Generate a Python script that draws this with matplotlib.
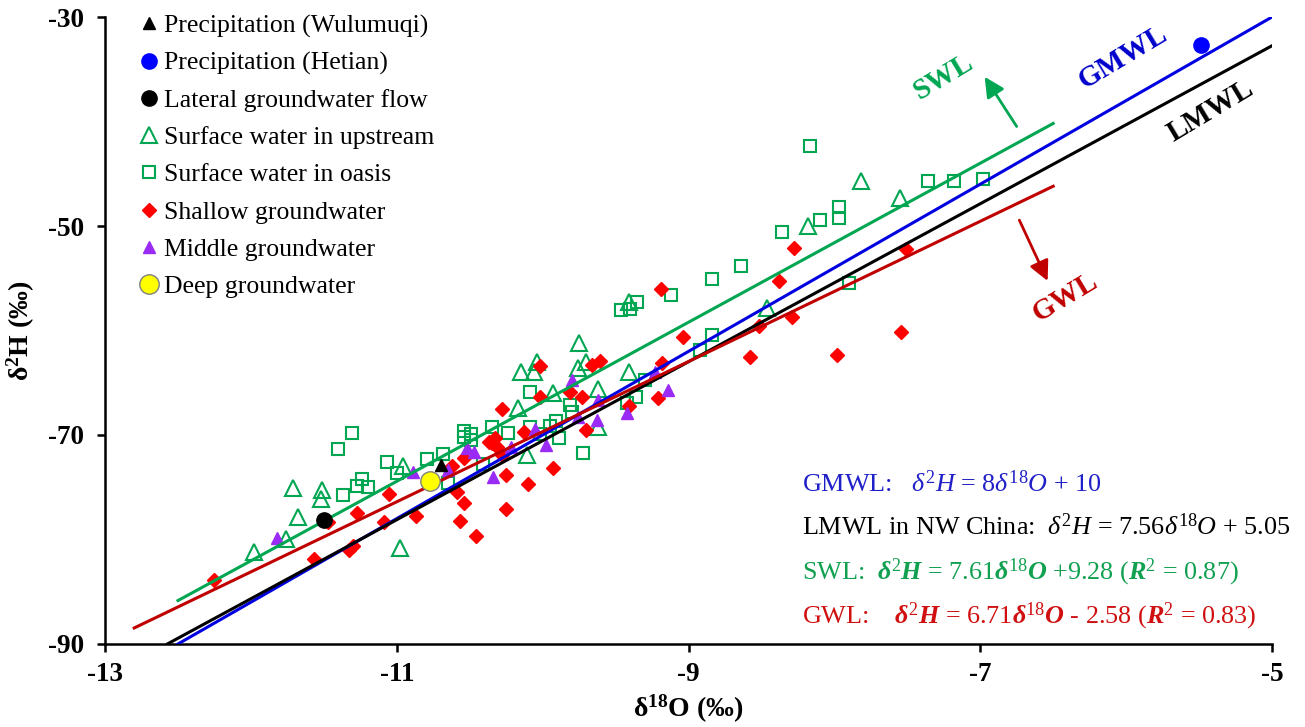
import matplotlib
matplotlib.use("Agg")
import matplotlib.pyplot as plt
import numpy as np

plt.rcParams['font.family'] = ['Liberation Serif', 'DejaVu Serif']
plt.rcParams['mathtext.fontset'] = 'custom'
plt.rcParams['mathtext.rm'] = 'Liberation Serif'
plt.rcParams['mathtext.it'] = 'Liberation Serif:italic'
plt.rcParams['mathtext.bf'] = 'Liberation Serif:bold'
plt.rcParams['mathtext.bfit'] = 'Liberation Serif:italic:bold'
plt.rcParams['axes.unicode_minus'] = False

# precipitation / end members
wulumuqi_x = [-10.70]
wulumuqi_y = [-72.9]
hetian_x = [-5.49]
hetian_y = [-32.7]
lateral_x = [-11.50]
lateral_y = [-78.1]
deep_x = [-10.77]
deep_y = [-74.4]

# surface water in upstream
up_x = [-11.98, -11.76, -11.71, -11.68, -11.52, -11.51, -10.98, -10.96, -10.17, -10.15,
        -10.06, -10.04, -10.11, -9.93, -9.75, -9.76, -9.70, -9.62, -9.62, -9.41,
        -9.41, -8.46, -8.18, -7.82, -7.55]
up_y = [-81.2, -79.95, -75.07, -77.85, -76.12, -75.26, -80.81, -72.97, -67.42, -63.97,
        -63.97, -63.01, -71.91, -65.98, -61.2, -63.59, -63.01, -65.6, -69.23, -57.27,
        -63.97, -57.85, -50.0, -45.69, -47.32]

# surface water in oasis
oasis_x = [-11.31, -11.40, -11.07, -11.00, -11.24, -11.27, -11.20, -11.37, -10.79, -10.68,
           -10.65, -10.54, -10.54, -10.49, -10.49, -10.41, -10.35, -10.24, -10.09, -10.09,
           -10.02, -9.95, -9.91, -9.89, -9.81, -9.80, -9.72, -9.42, -9.36, -9.30,
           -9.46, -9.40, -9.35, -9.12, -8.92, -8.84, -8.84, -8.64, -8.36, -8.17,
           -8.10, -7.97, -7.97, -7.90, -7.36, -7.18, -6.98]
oasis_y = [-69.81, -71.34, -72.58, -73.64, -74.21, -74.88, -74.98, -75.74, -72.3, -71.82,
           -74.59, -69.62, -70.19, -69.9, -70.48, -72.78, -69.23, -69.81, -65.89, -69.23,
           -69.9, -69.14, -68.66, -70.29, -67.13, -67.8, -71.72, -66.94, -66.36, -64.74,
           -58.04, -57.94, -57.27, -56.6, -61.87, -60.43, -55.07, -53.83, -50.57, -42.34,
           -49.43, -48.18, -49.23, -55.45, -45.69, -45.69, -45.5]

# shallow groundwater
shallow_x = [-12.25, -11.57, -11.33, -11.30, -11.47, -11.27, -11.09, -11.05, -10.87, -10.62,
             -10.54, -10.59, -10.54, -10.57, -10.46, -10.37, -10.33, -10.31, -10.28, -10.35,
             -10.28, -10.25, -10.25, -10.13, -10.10, -10.02, -10.02, -9.93, -9.81, -9.73,
             -9.70, -9.66, -9.61, -9.41, -9.21, -9.18, -9.19, -9.04, -8.58, -8.52,
             -8.38, -8.29, -8.28, -7.98, -7.54, -7.51]
shallow_y = [-83.88, -81.87, -81.0, -80.62, -78.33, -77.46, -78.33, -75.65, -77.75, -72.97,
             -72.2, -75.45, -76.51, -78.23, -79.67, -70.67, -70.29, -71.15, -71.91, -70.77,
             -67.51, -73.83, -77.08, -69.71, -74.69, -66.36, -63.4, -73.16, -65.89, -66.36,
             -69.52, -63.3, -62.92, -67.22, -66.46, -63.11, -56.03, -60.62, -62.54, -59.57,
             -55.26, -58.71, -52.11, -62.34, -60.14, -52.2]

# middle groundwater
middle_x = [-11.82, -10.89, -10.65, -10.52, -10.47, -10.34, -10.22, -10.05, -9.98, -9.80,
            -9.76, -9.62, -9.63, -9.42, -9.23, -9.14]
middle_y = [-79.86, -73.54, -73.35, -71.24, -71.63, -74.02, -71.15, -69.43, -70.96, -64.74,
            -68.28, -66.65, -68.56, -67.89, -63.97, -65.69]

# water lines: (slope, intercept, x start, x end)
gmwl = (8.0, 10.0, -12.5, -5.0)
lmwl = (7.56, 5.05, -12.57, -5.0)
swl = (7.61, 9.28, -12.5, -6.5)
gwl = (6.71, -2.58, -12.8, -6.5)

green = '#00A651'
blue = '#0000E0'
red = '#FF0000'
dred = '#C00000'
purple = '#9A2BF5'

fig = plt.figure(figsize=(13.05, 7.27), dpi=100)
ax = fig.add_axes([0.0805, 0.1142, 0.8942, 0.8624])

ax.plot(wulumuqi_x, wulumuqi_y, '^', color='black', ms=9, ls='none', zorder=5,
        label='Precipitation (Wulumuqi)')
ax.plot(hetian_x, hetian_y, 'o', color='#0000FF', ms=11, ls='none', zorder=5,
        label='Precipitation (Hetian)')
ax.plot(lateral_x, lateral_y, 'o', color='black', ms=11, ls='none', zorder=5,
        label='Lateral groundwater flow')
ax.plot(up_x, up_y, '^', mfc='none', mec=green, mew=1.5, ms=11, ls='none', zorder=2,
        label='Surface water in upstream')
ax.plot(oasis_x, oasis_y, 's', mfc='none', mec=green, mew=1.5, ms=9, ls='none', zorder=2,
        label='Surface water in oasis')
ax.plot(shallow_x, shallow_y, 'D', color=red, ms=7, ls='none', zorder=2,
        label='Shallow groundwater')
ax.plot(middle_x, middle_y, '^', color=purple, ms=9, ls='none', zorder=2,
        label='Middle groundwater')
ax.plot(deep_x, deep_y, 'o', mfc='#FFFF00', mec='#808080', mew=1, ms=14, ls='none', zorder=4,
        label='Deep groundwater')

for (k, b, x0, x1), c in [(gmwl, blue), (lmwl, 'black'), (swl, green), (gwl, dred)]:
    xs = np.array([x0, x1])
    ax.plot(xs, k * xs + b, color=c, lw=2.2, zorder=3)

# line names and arrows
ax.text(-7.25, -35.7, 'SWL', color=green, fontsize=21, fontweight='bold', rotation=31,
        ha='center', va='center')
ax.text(-6.02, -33.8, 'GMWL', color='#0000CC', fontsize=21, fontweight='bold', rotation=31,
        ha='center', va='center')
ax.text(-5.42, -39.0, 'LMWL', color='black', fontsize=21, fontweight='bold', rotation=31,
        ha='center', va='center')
ax.text(-6.42, -56.8, 'GWL', color=dred, fontsize=21, fontweight='bold', rotation=31,
        ha='center', va='center')
ax.annotate('', xy=(-6.98, -35.5), xytext=(-6.74, -40.7),
            arrowprops=dict(arrowstyle='-|>,head_length=1.2,head_width=0.6', color=green, lw=2))
ax.annotate('', xy=(-6.53, -55.5), xytext=(-6.74, -49.2),
            arrowprops=dict(arrowstyle='-|>,head_length=1.2,head_width=0.6', color=dred, lw=2))

# equations
eq_x = -8.22
ax.text(eq_x, -74.7, r'GMWL:   $\delta^2H$ = 8$\delta^{18}O$ + 10', color='#2020C8',
        fontsize=18.8, va='center')
ax.text(eq_x, -78.8, r'LMWL in NW China:  $\delta^2H$ = 7.56$\delta^{18}O$ + 5.05',
        color='black', fontsize=18.8, va='center')
ax.text(eq_x, -83.1, r'SWL:  $\mathbfit{\delta}^{2}\mathbfit{H}$ = 7.61$\mathbfit{\delta}^{18}\mathbfit{O}$ +9.28 ($\mathbfit{R}^{2}$ = 0.87)',
        color='#10A050', fontsize=18.8, va='center')
ax.text(eq_x, -87.4, r'GWL:    $\mathbfit{\delta}^{2}\mathbfit{H}$ = 6.71$\mathbfit{\delta}^{18}\mathbfit{O}$ - 2.58 ($\mathbfit{R}^{2}$ = 0.83)',
        color='#D01010', fontsize=18.8, va='center')

ax.set_xlim(-13, -5)
ax.set_ylim(-90, -30)
ax.set_xticks([-13, -11, -9, -7, -5])
ax.set_yticks([-90, -70, -50, -30])
for s in ['top', 'right']:
    ax.spines[s].set_visible(False)
for s in ['left', 'bottom']:
    ax.spines[s].set_linewidth(1.8)
ax.tick_params(direction='out', length=6, width=1.8, labelsize=19.5)
ax.tick_params(axis='y', pad=9)
ax.tick_params(axis='x', pad=7)
for lab in ax.get_xticklabels() + ax.get_yticklabels():
    lab.set_fontweight('bold')

ax.set_xlabel(r'$\mathbf{\delta^{18}O}$ (‰)', fontsize=20, fontweight='bold', labelpad=4)
ax.set_ylabel(r'$\mathbf{\delta^{2}H}$ (‰)', fontsize=20, fontweight='bold', labelpad=8)

ax.legend(loc='upper left', bbox_to_anchor=(0.022, 1.021), frameon=False, fontsize=18.5,
          handlelength=0.6, handletextpad=0.3, labelspacing=0.55, borderaxespad=0)

fig.savefig('out.png', dpi=100)
